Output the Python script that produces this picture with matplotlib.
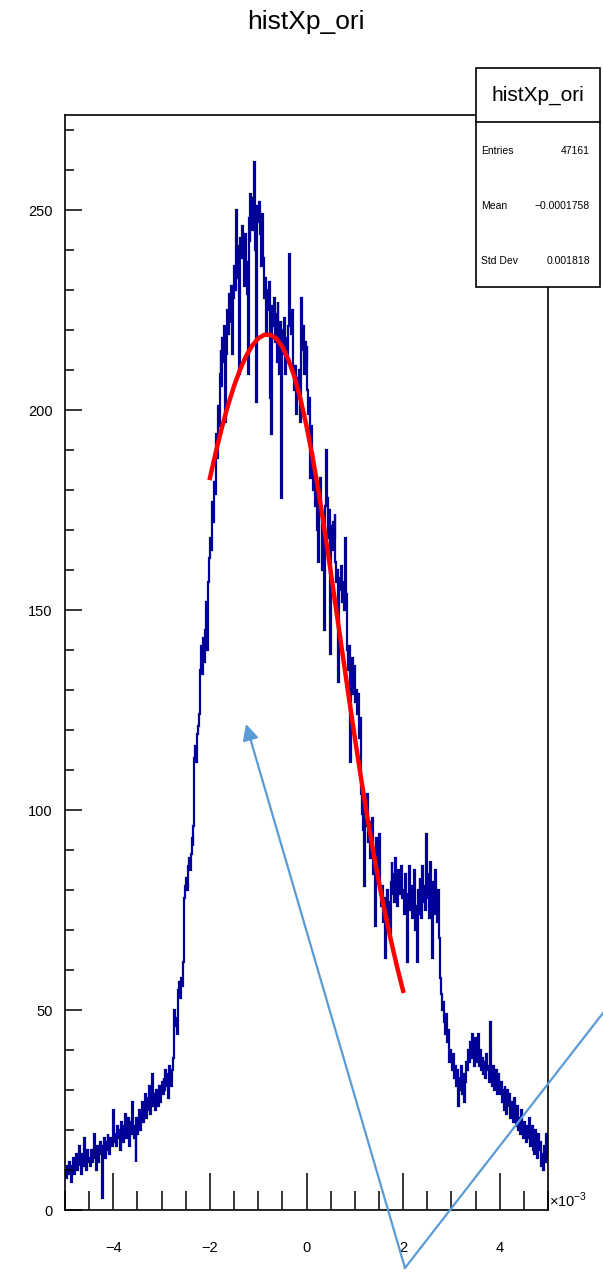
import numpy as np
import matplotlib.pyplot as plt
from matplotlib.ticker import MultipleLocator
from matplotlib.patches import Rectangle

plt.rcParams['font.family'] = ['Liberation Sans', 'DejaVu Sans']
plt.rcParams['mathtext.fontset'] = 'custom'
plt.rcParams['mathtext.rm'] = 'Liberation Sans'

# histogram contents, 500 bins from -5e-3 to 5e-3
counts = [
    10, 8, 11, 9, 12, 10, 7, 11, 13, 9, 12, 14, 10, 13, 11, 16, 12, 9, 14, 11, 18, 13, 10, 15, 12,
    13, 11, 15, 12, 14, 19, 13, 10, 16, 12, 15, 17, 14, 3, 16, 18, 13, 17, 15, 19, 16, 14, 18, 17, 16,
    25, 17, 19, 16, 21, 18, 20, 15, 22, 19, 17, 21, 24, 18, 20, 23, 16, 22, 19, 27, 20, 18, 21, 12, 23,
    19, 22, 25, 20, 24, 27, 22, 26, 29, 23, 28, 25, 31, 24, 27, 34, 26, 29, 25, 30, 28, 26, 31, 27, 30,
    32, 29, 33, 30, 35, 31, 34, 28, 36, 33, 31, 35, 38, 50, 46, 48, 44, 55, 57, 53, 58, 56, 62, 78, 81,
    83, 80, 86, 88, 85, 89, 93, 91, 96, 113, 116, 112, 119, 121, 124, 135, 141, 134, 143, 137, 145, 152, 140, 157, 163,
    168, 165, 177, 172, 182, 179, 194, 188, 201, 196, 209, 215, 206, 218, 212, 221, 197, 214, 225, 219, 229, 222, 231, 214, 228,
    236, 230, 250, 241, 233, 209, 243, 238, 246, 240, 231, 244, 237, 229, 209, 248, 242, 254, 249, 245, 253, 262, 240, 202, 251,
    247, 252, 244, 236, 249, 238, 228, 233, 219, 230, 225, 232, 203, 194, 226, 221, 228, 217, 224, 212, 227, 219, 209, 222, 178,
    220, 214, 223, 209, 218, 212, 221, 239, 224, 219, 225, 210, 205, 211, 199, 208, 203, 210, 197, 228, 215, 221, 209, 217, 212,
    216, 205, 199, 203, 183, 196, 189, 180, 184, 176, 180, 170, 162, 178, 183, 174, 160, 172, 145, 176, 190, 178, 168, 175, 139,
    171, 165, 172, 168, 174, 162, 157, 160, 132, 158, 155, 161, 152, 157, 150, 168, 154, 140, 135, 141, 112, 133, 138, 129, 136,
    127, 130, 124, 129, 118, 123, 104, 99, 102, 95, 81, 100, 96, 104, 92, 97, 88, 94, 98, 84, 90, 71, 93, 85, 82,
    94, 79, 76, 81, 72, 78, 63, 74, 80, 73, 77, 68, 82, 87, 79, 84, 77, 88, 81, 76, 85, 79, 83, 86, 78,
    80, 74, 84, 77, 62, 79, 86, 75, 81, 73, 78, 85, 70, 76, 62, 80, 74, 83, 79, 73, 86, 77, 81, 75, 94,
    78, 84, 73, 87, 76, 63, 82, 74, 85, 79, 72, 80, 68, 58, 54, 50, 52, 47, 44, 49, 42, 45, 41, 37, 40,
    38, 35, 39, 33, 36, 31, 35, 26, 33, 30, 36, 29, 34, 27, 32, 37, 35, 40, 37, 42, 38, 44, 40, 36, 43,
    39, 41, 37, 44, 36, 40, 35, 38, 34, 37, 33, 39, 35, 36, 32, 47, 34, 31, 36, 30, 33, 35, 29, 34, 31,
    29, 32, 27, 30, 25, 31, 28, 24, 30, 26, 29, 23, 27, 25, 22, 28, 24, 21, 26, 20, 23, 19, 25, 21, 18,
    22, 20, 17, 21, 18, 23, 16, 19, 21, 15, 18, 14, 20, 16, 13, 19, 15, 17, 11, 14, 10, 16, 12, 19, 13,
]
x_lo, x_hi = -5.0, 5.0

# fit curve points (x in 1e-3)
fit_x = [-2.0, -1.875, -1.75, -1.625, -1.5, -1.375, -1.25, -1.125, -1.0,
         -0.875, -0.75, -0.625, -0.5, -0.375, -0.25, -0.125, 0.0,
         0.125, 0.25, 0.375, 0.5, 0.625, 0.75, 0.875, 1.0,
         1.125, 1.25, 1.375, 1.5, 1.625, 1.75, 1.875, 2.0]
fit_y = [183, 189.6, 195.7, 201.2, 206.0, 210.1, 213.5, 216.1, 217.9,
         218.8, 218.8, 217.9, 215.8, 212.6, 208.3, 202.8, 196.0,
         188.3, 179.6, 169.9, 159.7, 149.2, 138.7, 128.3, 118.1,
         108.3, 98.9, 90.1, 81.9, 74.3, 67.3, 60.8, 54.8]

stats_labels = ['Entries', 'Mean', 'Std Dev']
stats_values = ['47161', '\u22120.0001758', '0.001818']
hist_name = 'histXp_ori'

W, H = 603, 1275
fig = plt.figure(figsize=(W / 100, H / 100), dpi=100)
ax = fig.add_axes([65 / W, 65 / H, 483 / W, 1095 / H])

edges = np.linspace(x_lo, x_hi, len(counts) + 1)
ax.stairs(counts, edges, baseline=None, color='#000099', lw=1.6)
ax.plot(fit_x, fit_y, color='red', lw=3.2, solid_joinstyle='round')

ax.set_xlim(x_lo, x_hi)
ax.set_ylim(0, 273.75)
ax.xaxis.set_major_locator(MultipleLocator(2))
ax.xaxis.set_minor_locator(MultipleLocator(0.5))
ax.yaxis.set_major_locator(MultipleLocator(50))
ax.yaxis.set_minor_locator(MultipleLocator(10))
ax.tick_params(axis='x', which='major', direction='in', length=27, width=1.1, pad=22, labelsize=10.5)
ax.tick_params(axis='x', which='minor', direction='in', length=13.5, width=1.1)
ax.tick_params(axis='y', which='major', direction='in', length=12, width=1.1, pad=9, labelsize=10.5)
ax.tick_params(axis='y', which='minor', direction='in', length=6.5, width=1.1)
for s in ax.spines.values():
    s.set_linewidth(1.2)

fig.text(306 / W, 1 - 22 / H, hist_name, ha='center', va='center', fontsize=19)
fig.text(549 / W, 1 - 1200 / H, r'$\times10^{-3}$', ha='left', va='center', fontsize=10.5)

# overlay in pixel coords for stats box and the arrow annotation
ov = fig.add_axes([0, 0, 1, 1], zorder=5)
ov.set_xlim(0, W)
ov.set_ylim(H, 0)
ov.axis('off')
ov.patch.set_alpha(0)

ov.add_patch(Rectangle((476, 68), 124, 219, fc='white', ec='black', lw=1.2))
ov.plot([476, 600], [122, 122], color='black', lw=1.2)
ov.text(538, 95, hist_name, ha='center', va='center', fontsize=15)
for i, (lab, val) in enumerate(zip(stats_labels, stats_values)):
    yy = 151 + i * 55
    ov.text(481, yy, lab, ha='left', va='center', fontsize=7.5)
    ov.text(590, yy, val, ha='right', va='center', fontsize=7.5)

blue = '#5B9BD5'
ov.annotate('', xy=(246, 724), xytext=(405, 1268),
            arrowprops=dict(arrowstyle='-|>', color=blue, lw=1.6, mutation_scale=24,
                            shrinkA=0, shrinkB=0))
ov.plot([405, 603], [1268, 1013], color=blue, lw=1.6, clip_on=False)

fig.savefig('out.png', dpi=100)
